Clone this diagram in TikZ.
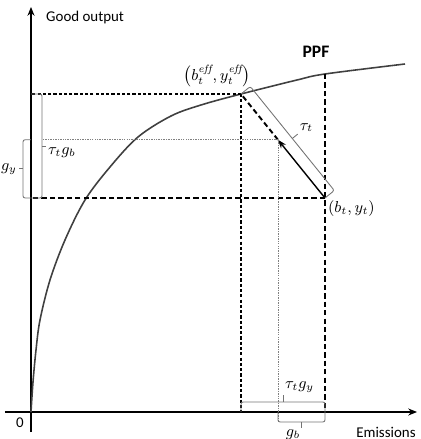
\documentclass[tikz,border=0pt]{standalone}
\usepackage{fontspec}
\setsansfont{Carlito}
\usetikzlibrary{calc,arrows.meta}
\begin{document}
\begin{tikzpicture}[x=0.02cm, y=0.02cm, font=\sffamily\fontsize{8.5}{10}\selectfont,
    axis/.style={line width=0.8pt, -{Stealth[length=5pt,width=4pt]}},
    bigdash/.style={line width=1.1pt, dash pattern=on 3pt off 1.8pt},
    smalldash/.style={line width=0.7pt, dash pattern=on 1.8pt off 1.2pt},
    guide/.style={gray, line width=0.45pt, dash pattern=on 0.8pt off 0.6pt},
    bracket/.style={black!55, line width=0.5pt, rounded corners=1.2pt},
    lab/.style={font=\fontsize{9}{10}\selectfont, inner sep=1pt}]
    \useasboundingbox (-31,-27) rectangle (389,412);
    % Axes
    \coordinate (O) at (0,0);
    \coordinate (ytop) at (0,405);
    \coordinate (ybot) at (0,-20);
    \coordinate (xleft) at (-26,0);
    \coordinate (xright) at (386,0);
    \draw[axis] (ybot) -- (ytop);
    \draw[axis] (xleft) -- (xright);
    \node[anchor=west] (ylab) at (9,394) {Good output};
    \node (xlab) at (355,-20) {Emissions};
    \node (zero) at (-11,-11) {0};
    % Frontier
    \draw[line width=0.9pt, black!75] plot[smooth, tension=0.55] coordinates {(0,0) (2,30) (5,62) (9,92) (19,132) (34,172) (54,212) (79,245) (107,275) (140,296) (170,307) (210,318) (266,332) (294,338) (374,348)};
    \node[font=\sffamily\bfseries\fontsize{10}{12}\selectfont] (ppf) at (285,360) {PPF};
    % Points
    \coordinate (E) at (210,318);
    \coordinate (C) at (294,214);
    \coordinate (Ctop) at (294,338);
    \coordinate (G) at ($(C)!0.56!(E)$);
    \node[lab, anchor=north west] (clab) at ($(C)+(1,-1)$) {$(b_t, y_t)$};
    \node[lab] (elab) at (186,336) {$\left(b_t^{\mathit{eff}}, y_t^{\mathit{eff}}\right)$};
    % Projections
    \draw[smalldash] (E) -- (E -| O);
    \draw[smalldash] (E) -- (E |- O);
    \draw[bigdash] (C) -- (C -| O);
    \draw[bigdash] (Ctop) -- (C |- O);
    \draw[bigdash] (G) -- (E);
    \draw[line width=0.8pt, -{Stealth[length=5pt,width=3.5pt]}] (C) -- (G);
    % Direction vector
    \coordinate (lb) at (11,0);
    \coordinate (bb) at (0,-10);
    \draw[guide] (G) -- (G -| lb);
    \draw[guide] (G) -- (G |- bb);
    % Left brackets
    \draw[bracket] (G -| O) -- ++(-8,0) |- (C -| O);
    \draw[bracket] ($(G -| O)!0.5!(C -| O)+(-8,0)$) -- ++(-4,0) node[lab, anchor=east, black] (gy) {$g_y$};
    \draw[bracket] (E -| O) -| (C -| lb) -- (C -| O);
    \draw[bracket] ($(E -| lb)!0.5!(C -| lb)$) -- ++(4,0) node[lab, anchor=north west, black] (tgb) {$\tau_t g_b$};
    % Bottom brackets
    \draw[bracket] (E |- O) -- ++(0,10) -| (C |- O);
    \draw[bracket] ($(E |- O)!0.5!(C |- O)+(0,10)$) -- ++(0,7) node[lab, anchor=south west, black] (tgy) {$\tau_t g_y$};
    \draw[bracket] (G |- O) |- (C |- bb) -- (C |- O);
    \draw[bracket] ($(G |- bb)!0.5!(C |- bb)$) -- ++(0,-6) node[lab, anchor=north east, black, inner sep=0.5pt] (gb) {$g_b$};
    % Distance bracket
    \coordinate (E2) at ($(E)+(9.3,7.5)$);
    \coordinate (C2) at ($(C)+(9.3,7.5)$);
    \draw[bracket] (E) -- (E2) -- (C2) -- (C);
    \draw[bracket] ($(E2)!0.5!(C2)$) -- ++(5.4,4.4) node[lab, anchor=south west, black] (tau) {$\tau_t$};
\end{tikzpicture}
\end{document}
